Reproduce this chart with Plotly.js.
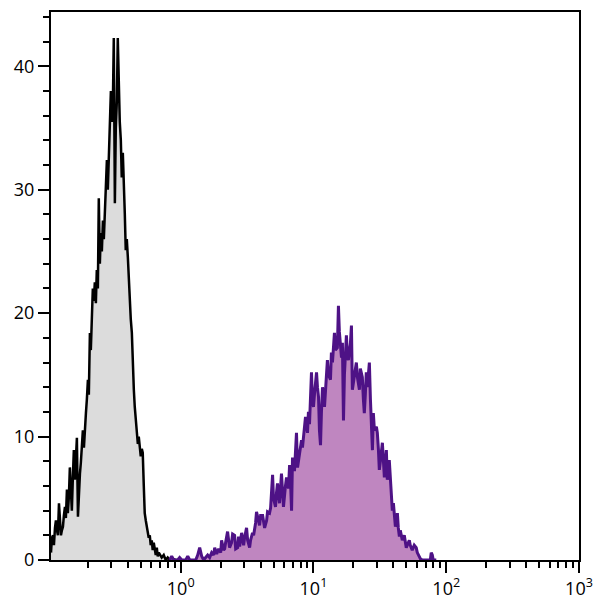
<!DOCTYPE html>
<html>
<head>
<meta charset="utf-8">
<script src="https://cdn.plot.ly/plotly-3.0.1.min.js"></script>
<style>html,body{margin:0;padding:0;background:#fff;}#chart{width:600px;height:608px;}</style>
</head>
<body>
<div id="chart"></div>
<script>
// Control (isotype) histogram: log10 of fluorescence channel, and event counts
const controlLogX = [-0.977,-0.970,-0.962,-0.955,-0.947,-0.940,-0.932,-0.925,-0.917,-0.910,
-0.902,-0.895,-0.887,-0.880,-0.872,-0.865,-0.857,-0.850,-0.842,-0.835,
-0.827,-0.820,-0.812,-0.805,-0.797,-0.789,-0.782,-0.774,-0.767,-0.759,
-0.752,-0.744,-0.737,-0.729,-0.722,-0.714,-0.707,-0.699,-0.692,-0.684,
-0.677,-0.669,-0.662,-0.654,-0.647,-0.639,-0.632,-0.624,-0.617,-0.609,
-0.602,-0.594,-0.586,-0.579,-0.571,-0.564,-0.556,-0.549,-0.541,-0.534,
-0.526,-0.519,-0.511,-0.504,-0.496,-0.489,-0.481,-0.474,-0.466,-0.459,
-0.451,-0.444,-0.436,-0.429,-0.421,-0.414,-0.406,-0.398,-0.391,-0.383,
-0.376,-0.368,-0.361,-0.353,-0.346,-0.338,-0.331,-0.323,-0.316,-0.308,
-0.301,-0.293,-0.286,-0.278,-0.271,-0.263,-0.256,-0.248,-0.241,-0.233,
-0.226,-0.218,-0.211,-0.203,-0.195,-0.188,-0.180,-0.173,-0.165,-0.158,
-0.143,-0.128,-0.113,-0.098,-0.083,-0.060,-0.038,-0.008];
const controlCounts = [0.6,1.8,2.0,1.2,2.6,3.2,2.4,2.0,4.6,3.0,
2.0,2.4,2.7,3.6,4.3,3.4,5.7,3.8,5.2,7.5,
5.8,4.0,6.8,8.9,6.5,8.2,9.9,3.5,5.6,7.0,
7.9,9.6,10.5,9.1,11.0,11.9,13.0,14.6,13.4,18.4,
17.0,20.5,22.0,21.0,22.5,20.8,23.5,22.0,29.3,24.0,
26.5,25.0,27.5,26.0,28.0,29.4,32.4,30.0,33.5,34.8,
38.0,35.5,37.0,42.3,28.9,35.0,37.2,42.3,36.7,35.5,
34.0,31.0,33.0,31.3,28.0,25.1,26.0,24.5,22.5,21.0,
19.5,18.4,15.8,13.8,12.4,11.2,10.3,9.4,10.0,9.1,
8.4,9.0,8.7,6.0,3.8,3.2,2.8,2.2,1.8,2.0,
1.2,1.6,0.8,1.4,1.0,0.4,1.0,0.3,0.6,0.5,
0.2,0.4,0.0,0.2,0.0,0.1,0.0,0.0];

// Stained sample histogram
const stainedLogX = [-0.083,-0.068,-0.053,-0.023,-0.008,0.008,0.038,0.053,0.068,0.113,
0.128,0.143,0.158,0.173,0.188,0.203,0.218,0.233,0.248,0.256,
0.271,0.286,0.301,0.308,0.323,0.331,0.338,0.353,0.368,0.383,
0.391,0.406,0.414,0.429,0.436,0.444,0.459,0.474,0.481,0.496,
0.504,0.519,0.526,0.541,0.549,0.564,0.571,0.579,0.594,0.602,
0.617,0.632,0.647,0.654,0.669,0.677,0.692,0.699,0.714,0.722,
0.729,0.744,0.759,0.767,0.774,0.789,0.797,0.812,0.820,0.827,
0.835,0.842,0.857,0.872,0.880,0.895,0.910,0.917,0.932,0.940,
0.955,0.962,0.970,0.985,0.992,1.000,1.008,1.023,1.030,1.038,
1.045,1.053,1.060,1.068,1.083,1.090,1.105,1.113,1.128,1.135,
1.143,1.158,1.165,1.180,1.188,1.195,1.211,1.218,1.226,1.233,
1.248,1.256,1.263,1.278,1.286,1.293,1.308,1.323,1.331,1.346,
1.353,1.368,1.376,1.383,1.391,1.398,1.406,1.421,1.429,1.444,
1.451,1.459,1.474,1.481,1.489,1.496,1.504,1.519,1.526,1.534,
1.541,1.549,1.556,1.564,1.571,1.579,1.586,1.594,1.602,1.609,
1.617,1.624,1.632,1.639,1.647,1.654,1.662,1.669,1.684,1.692,
1.699,1.714,1.722,1.729,1.737,1.744,1.759,1.774,1.782,1.789,
1.797,1.805,1.820,1.857,1.880,1.887,1.895,1.902,1.925];
const stainedCounts = [0,0.3,0,0,0.2,0,0,0.3,0,0,
0.4,1.0,0.3,0,0.2,0.4,0.2,0.6,0.4,1.0,
0.5,0.9,0.6,1.6,0.8,0.9,1.4,2.3,1.0,1.4,
2.1,2.0,0.9,1.0,1.9,1.1,2.2,1.2,1.8,2.6,
1.6,1.0,1.6,2.2,2.0,3.0,3.9,3.4,2.8,3.6,
3.6,2.6,3.2,3.9,3.8,4.2,6.9,5.0,4.3,5.5,
6.2,4.6,7.0,5.6,4.3,6.0,6.7,5.8,7.7,6.4,
4.0,8.3,7.2,10.3,7.5,8.6,9.7,9.1,10.6,11.6,
10.3,12.0,11.0,15.2,13.0,12.4,13.5,15.2,14.0,13.2,
10.5,9.3,12.0,14.0,12.4,13.6,16.2,15.0,14.6,16.8,
16.0,18.4,17.0,17.2,20.6,18.5,16.4,17.6,11.3,15.0,
18.2,16.5,16.2,17.5,19.0,13.8,15.0,16.0,14.8,13.8,
15.5,14.8,13.0,11.9,13.5,15.2,14.0,16.0,13.0,8.9,
11.9,10.5,10.8,10.3,9.0,7.3,8.0,9.5,8.2,6.7,
7.8,8.9,6.5,7.0,8.1,6.8,5.2,4.0,4.6,3.4,
2.7,3.2,3.8,2.6,1.9,2.4,1.8,1.6,2.0,1.5,
1.0,1.4,1.6,1.2,0.9,0.8,1.2,1.0,0.6,0.4,
0.2,0.1,0,0,0,0.6,0.4,0,0];

const xTickVals = [1, 10, 100, 1000];
const xTickText = ['10<sup>0</sup>', '10<sup>1</sup>', '10<sup>2</sup>', '10<sup>3</sup>'];
const xMinorVals = [0.2,0.3,0.4,0.5,0.6,0.7,0.8,0.9,2,3,4,5,6,7,8,9,20,30,40,50,60,70,80,90,200,300,400,500,600,700,800,900];
const yTickVals = [0, 10, 20, 30, 40];

const toLin = a => a.map(v => Math.pow(10, v));

const traces = [
  {x: toLin(controlLogX), y: controlCounts, type: 'scatter', mode: 'lines', fill: 'tozeroy',
   fillcolor: '#dcdcdc', line: {color: '#000000', width: 2.5}, hoverinfo: 'skip'},
  {x: toLin(stainedLogX), y: stainedCounts, type: 'scatter', mode: 'lines', fill: 'tozeroy',
   fillcolor: '#bf86c0', line: {color: '#4e1286', width: 3}, hoverinfo: 'skip'}
];

const layout = {
  width: 600, height: 608,
  margin: {l: 51, r: 21, t: 12, b: 48, pad: 0},
  paper_bgcolor: '#ffffff', plot_bgcolor: '#ffffff',
  showlegend: false,
  font: {family: 'Open Sans, DejaVu Sans, sans-serif', size: 18, color: '#000'},
  xaxis: {
    type: 'log', range: [-0.977, 3.0], autorange: false,
    showline: true, linecolor: '#000', linewidth: 2, mirror: true,
    showgrid: false, zeroline: false,
    tickmode: 'array', tickvals: xTickVals, ticktext: xTickText,
    ticks: 'outside', ticklen: 11, tickwidth: 2, tickcolor: '#000',
    minor: {tickmode: 'array', tickvals: xMinorVals, ticks: 'outside', ticklen: 6, tickwidth: 2, tickcolor: '#000', showgrid: false},
    tickfont: {size: 18}
  },
  yaxis: {
    range: [0, 44.4], autorange: false,
    showline: true, linecolor: '#000', linewidth: 2, mirror: true,
    showgrid: false, zeroline: false,
    tickmode: 'array', tickvals: yTickVals,
    ticks: 'outside', ticklen: 11, tickwidth: 2, tickcolor: '#000',
    minor: {dtick: 2, ticks: 'outside', ticklen: 6, tickwidth: 2, tickcolor: '#000', showgrid: false},
    tickfont: {size: 18}
  }
};

Plotly.newPlot('chart', traces, layout, {displayModeBar: false, staticPlot: true});
</script>
</body>
</html>
